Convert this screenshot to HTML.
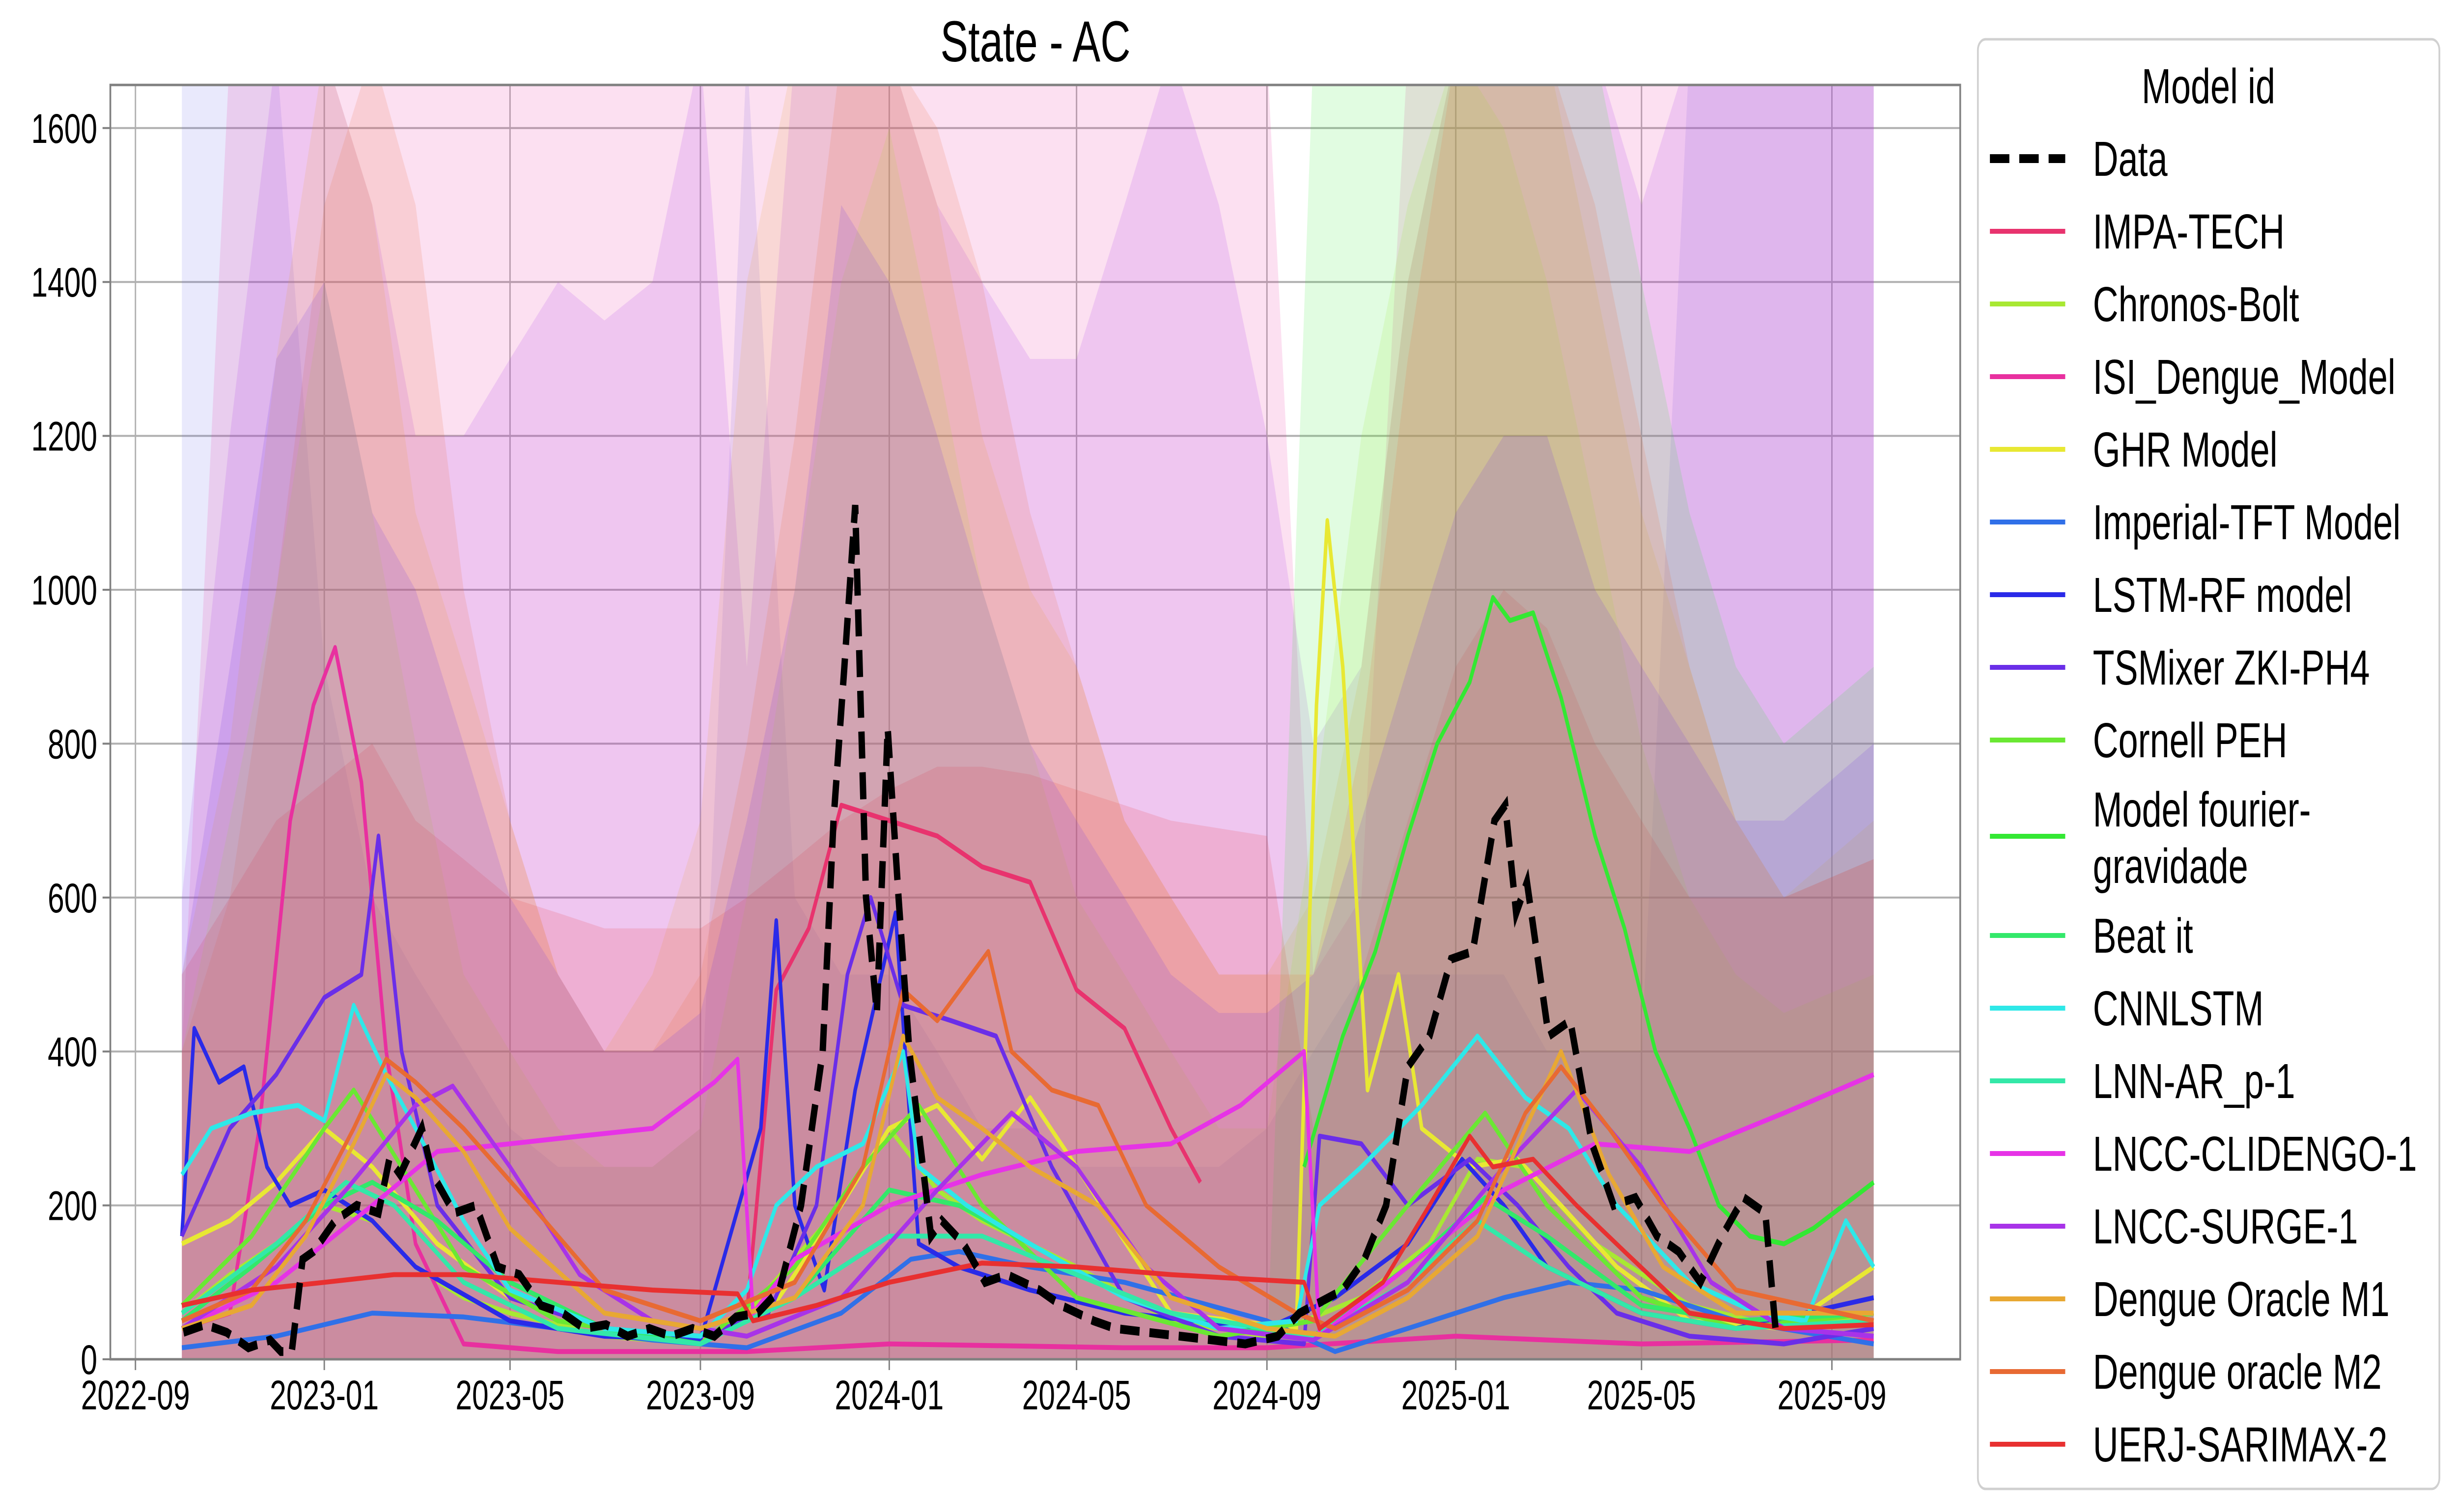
<!DOCTYPE html>
<html><head><meta charset="utf-8"><style>
html,body{margin:0;padding:0;background:#fff;width:100%;height:100%;overflow:hidden;}
svg{display:block;font-family:"Liberation Sans","DejaVu Sans",sans-serif;width:100vw;height:100vh;}
</style></head>
<body>
<svg id="chart" viewBox="0 0 6945 3079" preserveAspectRatio="none" xmlns="http://www.w3.org/2000/svg">
<defs><clipPath id="plotclip"><rect x="312" y="173" width="5231" height="2595"/></clipPath></defs>
<rect x="0" y="0" width="6945" height="3079" fill="#fff"/>
<text x="2928" y="125" font-size="118" text-anchor="middle">State - AC</text>
<g id="grid"></g>
<g id="bands" clip-path="url(#plotclip)"></g>
<g id="lines" clip-path="url(#plotclip)"></g>
<rect x="312" y="173" width="5231" height="2595" fill="none" stroke="#808080" stroke-width="5"/>
<g id="axes"></g>
<g id="legend"></g>
</svg>
<script>
// ---- data ----
const yTicks = [0,200,400,600,800,1000,1200,1400,1600];
const xTickLabels = ["2022-09","2023-01","2023-05","2023-09","2024-01","2024-05","2024-09","2025-01","2025-05","2025-09"];
const dataDates = ["2022-10-02","2022-10-16","2022-10-30","2022-11-13","2022-11-27","2022-12-04","2022-12-11","2022-12-18","2022-12-25","2023-01-08","2023-01-22","2023-02-05","2023-02-12","2023-02-19","2023-03-05","2023-03-12","2023-03-26","2023-04-09","2023-04-16","2023-04-23","2023-05-07","2023-05-21","2023-06-04","2023-06-18","2023-07-02","2023-07-16","2023-07-30","2023-08-13","2023-08-27","2023-09-10","2023-09-24","2023-10-08","2023-10-22","2023-11-05","2023-11-19","2023-11-26","2023-12-03","2023-12-10","2023-12-17","2023-12-24","2023-12-31","2024-01-07","2024-01-14","2024-01-28","2024-02-04","2024-02-18","2024-03-03","2024-03-17","2024-04-07","2024-04-21","2024-05-12","2024-05-26","2024-06-16","2024-07-07","2024-07-28","2024-08-18","2024-09-08","2024-09-22","2024-10-06","2024-10-20","2024-11-03","2024-11-17","2024-12-01","2024-12-15","2024-12-29","2025-01-12","2025-01-26","2025-02-02","2025-02-09","2025-02-16","2025-03-02","2025-03-16","2025-03-30","2025-04-13","2025-04-27","2025-05-11","2025-05-25","2025-06-08","2025-06-22","2025-07-06","2025-07-20","2025-07-27"];
const dataValues = [35,45,35,15,25,10,10,130,140,180,200,190,260,240,300,240,190,200,160,120,110,70,60,40,45,30,40,30,40,30,55,60,90,200,400,700,900,1110,600,450,820,600,400,160,180,150,100,110,90,70,50,40,35,30,25,20,30,60,75,90,130,200,380,420,520,530,700,720,580,620,420,440,280,200,210,160,140,100,160,210,190,30];

const modelNames = ["IMPA-TECH","Chronos-Bolt","ISI_Dengue_Model","GHR Model","Imperial-TFT Model","LSTM-RF model","TSMixer ZKI-PH4","Cornell PEH","Model fourier-gravidade","Beat it","CNNLSTM","LNN-AR_p-1","LNCC-CLIDENGO-1","LNCC-SURGE-1","Dengue Oracle M1","Dengue oracle M2","UERJ-SARIMAX-2"];
const modelColors = ["#e8336e","#a8e833","#e8309f","#e8e833","#3070e8","#2a2ae8","#6a2ee8","#6ae833","#33e833","#33e86a","#2ee8e8","#33e8a8","#e633e6","#a833e8","#e8a833","#e86a33","#e83030"];

const impaDates = ["2023-10-01","2023-10-20","2023-11-10","2023-12-01","2024-01-01","2024-02-01","2024-03-01","2024-04-01","2024-05-01","2024-06-01","2024-07-01","2024-07-20"];
const impaValues = [60,480,560,720,700,680,640,620,480,430,300,230];
const chronosDates = ["2022-10-01","2022-11-01","2022-12-01","2023-01-01","2023-02-01","2023-03-01","2023-04-01","2023-05-01","2023-07-01","2023-09-01","2023-10-01","2023-12-01","2024-01-01","2024-02-01","2024-03-01","2024-05-01","2024-07-01","2024-09-01","2024-11-01","2024-12-15","2025-01-15","2025-02-15","2025-04-01","2025-06-01","2025-08-01","2025-09-28"];
const chronosValues = [60,110,150,200,180,120,80,60,30,20,60,200,300,220,180,120,50,30,80,150,260,250,150,70,40,60];
const isiDates = ["2022-10-01","2022-11-01","2022-11-20","2022-12-10","2022-12-25","2023-01-08","2023-01-25","2023-02-10","2023-03-01","2023-04-01","2023-06-01","2023-10-01","2024-01-01","2024-06-01","2024-09-01","2025-01-01","2025-05-01","2025-09-28"];
const isiValues = [40,60,300,700,850,925,750,400,150,20,10,10,20,15,15,30,20,25];
const ghrDates = ["2022-10-01","2022-11-01","2022-12-01","2023-01-01","2023-02-01","2023-03-15","2023-05-01","2023-07-01","2023-09-01","2023-10-15","2023-12-01","2024-01-01","2024-02-01","2024-03-01","2024-04-01","2024-05-01","2024-07-01","2024-09-20","2024-10-03","2024-10-10","2024-10-20","2024-11-05","2024-11-25","2024-12-10","2025-01-10","2025-02-10","2025-03-10","2025-04-15","2025-06-01","2025-08-01","2025-09-28"];
const ghrValues = [150,180,230,300,250,150,80,40,30,60,200,300,330,260,340,250,60,40,850,1090,900,350,500,300,250,260,200,120,50,40,120];
const imperialDates = ["2022-10-01","2022-12-01","2023-02-01","2023-04-01","2023-06-01","2023-08-01","2023-10-01","2023-12-01","2024-01-15","2024-02-15","2024-04-01","2024-06-01","2024-09-01","2024-10-15","2024-12-01","2025-02-01","2025-03-15","2025-05-01","2025-07-01","2025-09-28"];
const imperialValues = [15,30,60,55,40,25,15,60,130,140,120,100,50,10,40,80,100,90,50,20];
const lstmDates = ["2022-10-01","2022-10-09","2022-10-25","2022-11-10","2022-11-25","2022-12-10","2023-01-01","2023-02-01","2023-03-01","2023-05-01","2023-07-01","2023-09-01","2023-10-10","2023-10-20","2023-11-01","2023-11-20","2023-12-10","2024-01-05","2024-01-20","2024-02-15","2024-04-01","2024-06-01","2024-09-01","2024-10-15","2024-12-01","2025-01-05","2025-02-01","2025-03-01","2025-05-01","2025-07-01","2025-09-28"];
const lstmValues = [160,430,360,380,250,200,220,180,120,50,30,25,300,570,200,90,350,580,150,120,90,60,40,80,150,260,200,120,60,40,80];
const tsmDates = ["2022-10-01","2022-11-01","2022-12-01","2023-01-01","2023-01-25","2023-02-05","2023-02-20","2023-03-15","2023-05-01","2023-07-01","2023-09-01","2023-10-15","2023-11-15","2023-12-05","2023-12-20","2024-01-10","2024-02-10","2024-03-10","2024-04-15","2024-06-01","2024-08-01","2024-09-25","2024-10-05","2024-11-01","2024-12-01","2025-01-10","2025-02-10","2025-03-15","2025-04-15","2025-06-01","2025-08-01","2025-09-28"];
const tsmValues = [160,300,370,470,500,680,400,200,80,40,30,60,200,500,600,460,440,420,250,80,30,20,290,280,200,260,200,120,60,30,20,40];
const cornellDates = ["2022-10-01","2022-11-15","2023-01-01","2023-01-20","2023-02-20","2023-04-01","2023-06-01","2023-09-01","2023-11-01","2023-12-15","2024-01-20","2024-03-01","2024-05-01","2024-08-01","2024-10-01","2024-12-01","2025-01-20","2025-03-01","2025-05-01","2025-07-01","2025-09-28"];
const cornellValues = [70,160,300,350,250,120,50,20,120,250,330,200,80,30,50,200,320,200,80,40,60];
const fourierDates = ["2024-09-25","2024-10-20","2024-11-10","2024-12-01","2024-12-20","2025-01-10","2025-01-25","2025-02-05","2025-02-20","2025-03-10","2025-04-01","2025-04-20","2025-05-10","2025-06-01","2025-06-20","2025-07-10","2025-08-01","2025-08-20","2025-09-28"];
const fourierValues = [250,420,530,680,800,880,990,960,970,860,680,560,400,300,200,160,150,170,230];
const beatDates = ["2022-10-01","2022-11-15","2023-01-01","2023-02-01","2023-03-15","2023-05-01","2023-07-01","2023-09-01","2023-11-01","2024-01-01","2024-02-15","2024-04-01","2024-06-01","2024-08-01","2024-10-01","2024-12-01","2025-01-20","2025-03-01","2025-05-01","2025-07-01","2025-09-28"];
const beatValues = [50,120,200,230,180,100,40,20,80,220,200,150,80,40,30,120,210,160,70,50,60];
const cnnDates = ["2022-10-01","2022-10-20","2022-11-15","2022-12-15","2023-01-01","2023-01-20","2023-02-10","2023-03-01","2023-04-01","2023-05-01","2023-07-01","2023-09-01","2023-10-01","2023-10-20","2023-11-15","2023-12-15","2024-01-10","2024-01-20","2024-02-20","2024-04-01","2024-06-01","2024-08-01","2024-09-20","2024-10-05","2024-11-01","2024-12-10","2025-01-15","2025-02-15","2025-03-15","2025-04-15","2025-06-01","2025-07-15","2025-08-15","2025-09-10","2025-09-28"];
const cnnValues = [240,300,320,330,310,460,370,300,180,90,40,30,90,200,250,280,400,250,200,150,80,40,50,200,250,330,420,340,300,200,100,60,50,180,120];
const lnnDates = ["2022-10-01","2022-12-01","2023-01-15","2023-02-15","2023-04-01","2023-06-01","2023-09-01","2023-11-01","2024-01-01","2024-03-01","2024-05-01","2024-07-01","2024-10-01","2024-12-01","2025-01-15","2025-03-01","2025-05-01","2025-07-01","2025-09-28"];
const lnnValues = [60,150,230,200,100,40,20,80,160,160,110,60,30,100,180,120,60,40,50];
const clidDates = ["2022-10-01","2022-12-01","2023-02-01","2023-03-15","2023-05-01","2023-06-15","2023-08-01","2023-09-10","2023-09-25","2023-10-05","2023-11-01","2024-01-01","2024-03-01","2024-05-01","2024-07-01","2024-08-15","2024-09-25","2024-10-05","2024-12-01","2025-02-01","2025-04-01","2025-06-01","2025-08-01","2025-09-28"];
const clidValues = [40,100,200,270,280,290,300,360,390,60,130,200,240,270,280,330,400,30,120,220,280,270,320,370];
const surgeDates = ["2022-10-01","2022-12-01","2023-01-15","2023-03-01","2023-03-25","2023-05-01","2023-06-15","2023-08-01","2023-10-01","2023-12-01","2024-02-01","2024-03-20","2024-05-01","2024-06-15","2024-08-01","2024-10-01","2024-12-01","2025-02-01","2025-03-20","2025-05-01","2025-06-15","2025-08-01","2025-09-28"];
const surgeValues = [40,120,220,330,355,250,110,50,30,80,220,320,250,120,40,25,100,250,350,250,100,40,30];
const m1Dates = ["2022-10-01","2022-11-15","2022-12-20","2023-01-20","2023-02-10","2023-03-01","2023-04-01","2023-05-01","2023-07-01","2023-09-01","2023-11-01","2023-12-15","2024-01-10","2024-02-01","2024-03-01","2024-04-01","2024-05-15","2024-07-01","2024-09-01","2024-10-15","2024-12-01","2025-01-15","2025-02-15","2025-03-10","2025-04-10","2025-05-15","2025-07-01","2025-09-28"];
const m1Values = [40,70,160,280,370,340,270,170,60,40,80,200,420,340,300,250,200,80,40,30,80,160,300,400,240,120,60,60];
const m2Dates = ["2022-10-01","2022-11-15","2022-12-20","2023-01-20","2023-02-10","2023-03-01","2023-04-01","2023-05-15","2023-07-01","2023-09-01","2023-11-01","2023-12-15","2024-01-10","2024-02-01","2024-03-05","2024-03-20","2024-04-15","2024-05-15","2024-06-15","2024-08-01","2024-09-20","2024-10-15","2024-12-01","2025-01-15","2025-02-15","2025-03-10","2025-04-10","2025-05-15","2025-07-01","2025-09-28"];
const m2Values = [50,90,180,300,390,360,300,200,90,50,100,250,480,440,530,400,350,330,200,120,60,40,90,180,320,380,300,200,90,50];
const uerjDates = ["2022-10-01","2022-11-15","2023-01-01","2023-02-15","2023-04-01","2023-06-01","2023-08-01","2023-09-25","2023-10-05","2023-11-15","2024-01-01","2024-03-01","2024-05-01","2024-07-01","2024-09-25","2024-10-05","2024-11-15","2024-12-15","2025-01-10","2025-01-25","2025-02-20","2025-03-20","2025-04-20","2025-06-01","2025-08-01","2025-09-28"];
const uerjValues = [70,90,100,110,110,100,90,85,50,70,100,125,120,110,100,40,100,200,290,250,260,200,140,60,40,45];

const bandDates = ["2022-10-01","2022-11-01","2022-12-01","2023-01-01","2023-02-01","2023-03-01","2023-04-01","2023-05-01","2023-06-01","2023-07-01","2023-08-01","2023-09-01","2023-10-01","2023-11-01","2023-12-01","2024-01-01","2024-02-01","2024-03-01","2024-04-01","2024-05-01","2024-06-01","2024-07-01","2024-08-01","2024-09-01","2024-10-01","2024-11-01","2024-12-01","2025-01-01","2025-02-01","2025-03-01","2025-04-01","2025-05-01","2025-06-01","2025-07-01","2025-08-01","2025-09-28"];
const bandColors = ["#6a6ae8","#e8309f","#a833e8","#e8a833","#a8e833","#e83030","#33e833","#e86a33","#6a2ee8"];
const bandLavender = [1700,1700,1700,900,600,500,400,300,250,250,250,300,1700,600,500,500,400,300,300,250,250,250,250,300,400,500,500,500,500,400,400,400,1700,1700,1700,1700];
const bandIsi = [400,1700,1700,1700,1700,1700,1700,1700,1700,1700,1700,1700,1700,1700,1700,1700,1700,1700,1700,1700,1700,1700,1700,1700,500,600,1700,1700,1700,1700,1700,1700,1700,1700,1700,1700];
const bandPurple = [600,1200,1700,1700,1500,1200,1200,1300,1400,1350,1400,1700,900,1700,1700,1700,1500,1400,1300,1300,1500,1700,1500,1200,800,900,1400,1700,1700,1700,1700,1500,1700,1700,1700,1700];
const bandOrange = [500,800,1300,1700,1500,1100,900,700,500,400,500,700,1400,1700,1700,1700,1500,1200,1000,900,700,600,500,500,600,900,1400,1700,1700,1700,1400,1100,900,700,600,700];
const bandChronos = [400,700,1000,1400,1100,800,500,400,300,250,250,300,600,1000,1400,1600,1300,1000,800,600,500,400,300,300,700,1200,1500,1700,1600,1400,1100,800,600,500,450,500];
const bandUerj = [500,600,700,750,800,700,650,600,580,560,560,560,600,650,700,740,770,770,760,740,720,700,690,680,300,500,700,900,1000,950,800,700,600,600,600,650];
const bandFourier = [0,0,0,0,0,0,0,0,0,0,0,0,0,0,0,0,0,0,0,0,0,0,0,0,1700,1700,1700,1700,1700,1700,1700,1400,1100,900,800,900];
const bandM2 = [400,600,1000,1500,1700,1500,1000,700,500,400,400,500,800,1200,1700,1700,1600,1400,1100,900,700,600,500,500,500,800,1300,1700,1700,1700,1500,1200,900,700,600,650];
const bandTsm = [500,900,1300,1400,1100,1000,800,600,500,400,400,450,700,1000,1500,1400,1200,1000,800,700,600,500,450,450,500,700,900,1100,1200,1200,1000,900,800,700,700,800];

// ---- scales ----
const X0 = 383, PXDAY = 4.377, Y0 = 2768, PXUNIT = 1.567;
const base = Date.UTC(2022,8,1);
function parseD(s){const p=s.split('-').map(Number);return Date.UTC(p[0],p[1]-1,p[2]||1);}
function xs(s){return X0+(parseD(s)-base)/86400000*PXDAY;}
function ys(v){return Y0-v*PXUNIT;}
const NS="http://www.w3.org/2000/svg";
function mk(tag,attrs,parent){const e=document.createElementNS(NS,tag);for(const k in attrs)e.setAttribute(k,attrs[k]);parent.appendChild(e);return e;}

const grid=document.getElementById('grid'), axes=document.getElementById('axes');
yTicks.forEach(v=>{
  const gl=mk('line',{x1:312,x2:5543,y1:ys(v),y2:ys(v),stroke:'#b0b0b0','stroke-width':4},grid);
  
  
  mk('line',{x1:290,x2:312,y1:ys(v),y2:ys(v),stroke:'#808080','stroke-width':4},axes);
  const t=mk('text',{x:275,y:ys(v)+30,'font-size':84,'text-anchor':'end',fill:'#000'},axes);
  t.textContent=v;
  
  
});
xTickLabels.forEach(s=>{
  const x=xs(s+'-01');
  const gl=mk('line',{x1:x,x2:x,y1:173,y2:2768,stroke:'#b0b0b0','stroke-width':4},grid);
  
  
  mk('line',{x1:x,x2:x,y1:2768,y2:2790,stroke:'#808080','stroke-width':4},axes);
  const t=mk('text',{x:x,y:2870,'font-size':84,'text-anchor':'middle',fill:'#000'},axes);
  t.textContent=s;
  
  
});

const bandsG=document.getElementById('bands');
const bandSeries=[bandLavender,bandIsi,bandPurple,bandOrange,bandChronos,bandUerj,bandFourier,bandM2,bandTsm];
bandSeries.forEach((arr,i)=>{
  let d='M'+xs(bandDates[0])+','+ys(0);
  arr.forEach((v,j)=>{d+=' L'+xs(bandDates[j]).toFixed(1)+','+ys(v).toFixed(1);});
  d+=' L'+xs(bandDates[bandDates.length-1])+','+ys(0)+' Z';
  const p=mk('path',{d:d,fill:bandColors[i],'fill-opacity':0.15,stroke:'none'},bandsG);
  
  
});

const linesG=document.getElementById('lines');
const modelDates=[impaDates,chronosDates,isiDates,ghrDates,imperialDates,lstmDates,tsmDates,cornellDates,fourierDates,beatDates,cnnDates,lnnDates,clidDates,surgeDates,m1Dates,m2Dates,uerjDates];
const modelValues=[impaValues,chronosValues,isiValues,ghrValues,imperialValues,lstmValues,tsmValues,cornellValues,fourierValues,beatValues,cnnValues,lnnValues,clidValues,surgeValues,m1Values,m2Values,uerjValues];
modelNames.forEach((n,i)=>{
  const pts=modelValues[i].map((v,j)=>xs(modelDates[i][j]).toFixed(1)+','+ys(v).toFixed(1)).join(' ');
  const pl=mk('polyline',{points:pts,fill:'none',stroke:modelColors[i],'stroke-width':10,'stroke-linejoin':'round'},linesG);
  
  
});
const dpts=dataValues.map((v,j)=>xs(dataDates[j]).toFixed(1)+','+ys(v).toFixed(1)).join(' ');
const dl=mk('polyline',{points:dpts,fill:'none',stroke:'#000','stroke-width':18,'stroke-dasharray':'55 28'},linesG);



const lg=document.getElementById('legend');
const box=mk('rect',{x:5593,y:80,width:1305,height:2952,rx:22,fill:'#fff',stroke:'#d0d0d0','stroke-width':5},lg);


const lt=mk('text',{x:6245,y:210,'font-size':100,'text-anchor':'middle',fill:'#000'},lg);
lt.textContent='Model id';


const entryY=[323,471,619,767,915,1063,1211,1359,1507,1703,1905,2053,2201,2349,2497,2645,2793,2941];
const entryLabels=['Data'].concat(modelNames);
const entryColors=['#000'].concat(modelColors);
entryLabels.forEach((lab,i)=>{
  const y=entryY[i];
  const ln=mk('line',{x1:5627,x2:5840,y1:y,y2:y,stroke:entryColors[i],'stroke-width':i===0?18:10,'stroke-dasharray':i===0?'55 28':'none'},lg);
  
  
  if(lab==='Model fourier-gravidade'){
    const t1=mk('text',{x:5918,y:1683,'font-size':100,fill:'#000'},lg);
    t1.textContent='Model fourier-';
    
    
    const t2=mk('text',{x:5918,y:1798,'font-size':100,fill:'#000'},lg);
    t2.textContent='gravidade';
    
    
  } else {
    const t=mk('text',{x:5918,y:y+35,'font-size':100,fill:'#000'},lg);
    t.textContent=lab;
    
    
  }
});
</script>
</body></html>
